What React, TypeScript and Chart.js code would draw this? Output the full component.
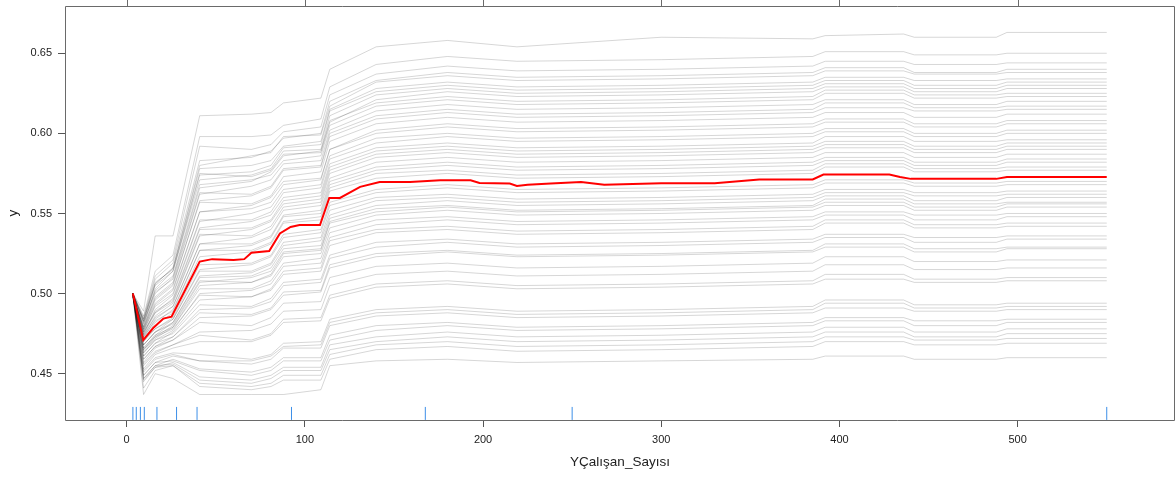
import React, { useEffect, useRef } from "react";
import { Chart, registerables } from "chart.js";

Chart.register(...registerables);

// ---- axis ticks ----
const xTicks = [0, 100, 200, 300, 400, 500];
const yTicks = [0.45, 0.5, 0.55, 0.6, 0.65];

// ---- grid of the ICE curves (YÇalışan_Sayısı values) ----
const gridX = [3.5, 9.5, 16, 26, 41, 70, 81, 88, 109, 114, 140, 180, 219, 300, 385, 392, 436, 442, 488, 494, 550];

// ---- individual conditional expectation curves ----
const ice01 = [.500, .489, .536, .536, .611, .612, .613, .619, .622, .640, .654, .658, .654, .660, .659, .661, .662, .660, .660, .663, .663];
const ice02 = [.500, .486, .514, .524, .598, .598, .599, .605, .609, .629, .643, .648, .645, .646, .648, .651, .651, .649, .649, .650, .650];
const ice03 = [.500, .485, .511, .521, .592, .590, .593, .601, .604, .624, .637, .642, .639, .640, .642, .645, .645, .643, .643, .644, .644];
const ice04 = [.499, .484, .509, .519, .583, .585, .589, .597, .600, .620, .633, .638, .635, .636, .638, .641, .641, .638, .638, .640, .640];
const ice05 = [.500, .483, .506, .516, .580, .586, .588, .598, .599, .617, .632, .636, .633, .634, .636, .639, .639, .637, .637, .638, .638];
const ice06 = [.500, .483, .506, .516, .578, .580, .583, .592, .595, .615, .628, .632, .629, .630, .632, .635, .635, .633, .633, .634, .634];
const ice07 = [.499, .480, .503, .514, .574, .576, .580, .591, .593, .614, .626, .630, .627, .628, .630, .633, .633, .630, .630, .632, .632];
const ice08 = [.500, .482, .505, .514, .571, .574, .578, .589, .590, .611, .624, .628, .625, .626, .628, .631, .631, .628, .628, .630, .630];
const ice09 = [.500, .484, .507, .515, .575, .573, .577, .587, .588, .607, .621, .626, .623, .624, .626, .629, .629, .626, .626, .628, .628];
const ice10 = [.498, .479, .500, .510, .566, .570, .576, .586, .589, .608, .619, .623, .620, .621, .623, .627, .627, .624, .624, .625, .625];
const ice11 = [.500, .481, .502, .511, .568, .571, .574, .583, .586, .605, .617, .621, .618, .619, .621, .625, .625, .622, .622, .623, .623];
const ice12 = [.499, .478, .498, .507, .562, .567, .571, .581, .583, .602, .614, .618, .615, .616, .618, .621, .621, .618, .618, .620, .620];
const ice13 = [.500, .482, .501, .509, .563, .562, .567, .578, .580, .600, .611, .615, .612, .613, .615, .619, .619, .616, .616, .617, .617];
const ice14 = [.500, .477, .496, .505, .558, .561, .566, .577, .579, .598, .609, .613, .610, .611, .613, .616, .616, .614, .614, .615, .615];
const ice15 = [.499, .479, .497, .506, .557, .556, .561, .573, .576, .595, .606, .610, .607, .608, .610, .613, .613, .610, .610, .612, .612];
const ice16 = [.500, .476, .493, .502, .551, .555, .560, .570, .572, .590, .602, .606, .603, .604, .606, .609, .609, .606, .606, .608, .608];
const ice17 = [.500, .478, .494, .503, .551, .553, .557, .568, .571, .590, .600, .604, .601, .602, .604, .607, .607, .604, .604, .606, .606];
const ice18 = [.498, .475, .490, .499, .545, .550, .554, .565, .568, .586, .597, .600, .597, .598, .600, .603, .603, .600, .600, .602, .602];
const ice19 = [.500, .477, .492, .500, .546, .546, .551, .563, .566, .584, .594, .598, .595, .596, .598, .601, .601, .598, .598, .600, .600];
const ice20 = [.499, .474, .488, .497, .541, .545, .549, .560, .563, .581, .591, .594, .591, .592, .594, .598, .598, .595, .595, .596, .596];
const ice21 = [.500, .475, .489, .496, .540, .541, .546, .558, .561, .579, .589, .592, .589, .590, .592, .595, .595, .592, .592, .594, .594];
const ice22 = [.500, .473, .486, .494, .536, .540, .545, .556, .559, .577, .587, .590, .587, .588, .590, .593, .593, .590, .590, .592, .592];
const ice23 = [.499, .476, .488, .495, .537, .536, .542, .554, .557, .575, .585, .588, .585, .586, .588, .591, .591, .588, .588, .590, .590];
const ice24 = [.500, .472, .484, .492, .531, .535, .540, .552, .555, .572, .582, .585, .582, .583, .585, .588, .588, .585, .585, .587, .587];
const ice25 = [.500, .474, .485, .492, .531, .531, .536, .549, .552, .570, .579, .582, .579, .580, .582, .585, .585, .582, .582, .584, .584];
const ice26 = [.498, .471, .482, .490, .527, .530, .535, .548, .550, .568, .577, .580, .577, .578, .580, .583, .583, .580, .580, .582, .582];
const ice27 = [.500, .473, .483, .489, .527, .527, .532, .545, .548, .566, .575, .577, .574, .575, .577, .581, .581, .578, .578, .579, .579];
const ice28 = [.499, .470, .480, .488, .523, .526, .531, .544, .546, .564, .572, .575, .572, .573, .575, .579, .579, .576, .576, .577, .577];
const ice29 = [.500, .471, .478, .485, .518, .519, .524, .537, .540, .557, .565, .568, .565, .566, .568, .571, .571, .569, .569, .570, .570];
const ice30 = [.500, .468, .476, .484, .515, .518, .523, .535, .538, .555, .563, .566, .563, .564, .566, .569, .569, .567, .567, .568, .568];
const ice31 = [.499, .470, .478, .484, .514, .514, .519, .532, .535, .552, .560, .562, .559, .560, .562, .565, .565, .563, .563, .564, .564];
const ice32 = [.500, .466, .474, .482, .511, .513, .518, .530, .533, .549, .558, .560, .557, .558, .560, .563, .563, .561, .561, .562, .562];
const ice33 = [.500, .468, .476, .482, .510, .511, .516, .528, .530, .547, .555, .558, .555, .556, .558, .561, .561, .558, .558, .560, .560];
const ice34 = [.498, .465, .473, .480, .507, .510, .514, .526, .528, .545, .553, .555, .552, .553, .555, .559, .559, .556, .556, .557, .557];
const ice35 = [.500, .468, .476, .481, .508, .507, .512, .525, .527, .544, .551, .554, .551, .552, .554, .557, .557, .554, .554, .556, .556];
const ice36 = [.499, .464, .472, .479, .505, .507, .511, .523, .525, .541, .549, .552, .549, .550, .552, .555, .555, .552, .552, .554, .554];
const ice37 = [.500, .466, .474, .479, .503, .503, .508, .519, .522, .538, .546, .548, .545, .546, .548, .551, .551, .549, .549, .550, .550];
const ice38 = [.500, .463, .471, .477, .500, .502, .506, .517, .519, .535, .543, .546, .543, .544, .546, .549, .549, .546, .546, .548, .548];
const ice39 = [.499, .465, .473, .478, .499, .498, .503, .514, .516, .533, .540, .542, .539, .540, .542, .546, .546, .543, .543, .544, .544];
const ice40 = [.500, .461, .469, .476, .496, .498, .502, .512, .514, .530, .538, .540, .537, .538, .540, .544, .544, .541, .541, .542, .542];
const ice41 = [.498, .463, .471, .475, .493, .492, .497, .507, .509, .524, .532, .534, .531, .532, .534, .537, .537, .535, .535, .536, .536];
const ice42 = [.500, .459, .467, .473, .490, .491, .495, .505, .507, .522, .529, .532, .529, .530, .532, .535, .535, .532, .532, .534, .534];
const ice43 = [.500, .461, .469, .473, .488, .487, .491, .501, .502, .518, .525, .527, .524, .525, .527, .531, .531, .528, .528, .529, .529];
const ice44 = [.499, .457, .466, .471, .485, .486, .490, .499, .501, .516, .523, .526, .523, .524, .526, .529, .529, .526, .526, .528, .528];
const ice45 = [.500, .459, .467, .471, .482, .480, .485, .494, .495, .510, .517, .519, .516, .517, .519, .523, .523, .520, .520, .521, .521];
const ice46 = [.500, .455, .463, .468, .476, .477, .481, .489, .490, .505, .512, .514, .511, .512, .514, .518, .518, .515, .515, .516, .516];
const ice47 = [.498, .456, .464, .468, .474, .471, .475, .484, .485, .499, .506, .508, .505, .506, .508, .512, .512, .509, .509, .510, .510];
const ice48 = [.500, .453, .462, .466, .470, .470, .474, .482, .483, .497, .504, .506, .503, .504, .506, .509, .509, .507, .507, .508, .508];
const ice49 = [.499, .452, .460, .463, .462, .459, .462, .469, .470, .484, .490, .492, .489, .490, .492, .496, .496, .493, .493, .494, .494];
const ice50 = [.500, .449, .457, .461, .458, .458, .461, .467, .468, .482, .488, .490, .487, .488, .490, .494, .494, .491, .491, .492, .492];
const ice51 = [.500, .451, .459, .462, .458, .456, .459, .466, .466, .480, .486, .488, .485, .486, .488, .491, .491, .489, .489, .490, .490];
const ice52 = [.498, .447, .455, .459, .453, .451, .454, .460, .460, .474, .480, .482, .479, .480, .482, .485, .485, .483, .483, .484, .484];
const ice53 = [.500, .449, .457, .458, .452, .449, .452, .458, .458, .471, .477, .480, .477, .478, .480, .483, .483, .480, .480, .482, .482];
const ice54 = [.499, .445, .454, .457, .448, .446, .449, .454, .454, .468, .473, .476, .473, .474, .476, .479, .479, .476, .476, .478, .478];
const ice55 = [.500, .447, .455, .456, .446, .444, .447, .452, .452, .465, .470, .473, .470, .471, .473, .476, .476, .473, .473, .475, .475];
const ice56 = [.500, .441, .452, .455, .444, .442, .444, .449, .449, .462, .468, .470, .467, .468, .470, .473, .473, .471, .471, .472, .472];
const ice57 = [.499, .446, .454, .455, .442, .440, .442, .446, .446, .459, .465, .467, .464, .465, .467, .470, .470, .468, .468, .469, .469];
const ice58 = [.499, .437, .450, .447, .437, .437, .437, .437, .440, .455, .458, .459, .457, .458, .459, .461, .461, .459, .459, .460, .460];

const iceLines = [
  ice01, ice02, ice03, ice04, ice05, ice06, ice07, ice08, ice09, ice10,
  ice11, ice12, ice13, ice14, ice15, ice16, ice17, ice18, ice19, ice20,
  ice21, ice22, ice23, ice24, ice25, ice26, ice27, ice28, ice29, ice30,
  ice31, ice32, ice33, ice34, ice35, ice36, ice37, ice38, ice39, ice40,
  ice41, ice42, ice43, ice44, ice45, ice46, ice47, ice48, ice49, ice50,
  ice51, ice52, ice53, ice54, ice55, ice56, ice57, ice58,
];

// ---- average (red) curve ----
const meanX = [3.5, 9.3, 14.9, 20.6, 25.2, 41, 48, 60, 66, 70, 80, 86, 92, 97, 108.5, 113.7, 119.7, 131, 142, 159, 176, 193, 198, 215, 219, 225, 238, 255, 268, 300, 330, 355, 385, 391, 428, 434, 440, 488, 494, 550];
const meanY = [.500, .471, .4785, .4844, .4856, .520, .5215, .521, .5215, .5255, .5266, .5375, .5416, .5428, .5428, .5597, .5597, .5666, .5697, .5697, .5707, .5707, .569, .5687, .5672, .568, .5687, .5697, .568, .5688, .5688, .5712, .5712, .5743, .5743, .5728, .5716, .5716, .5728, .5728];

// ---- rug of observed values ----
const rugX = [3.5, 5.4, 7.7, 9.9, 17, 28, 39.5, 92.5, 167.6, 250, 550];
const rugY = 0.4252;

const FONT = "'Liberation Sans', Arial, Helvetica, sans-serif";

export default function App() {
  const ref = useRef<HTMLCanvasElement>(null);

  useEffect(() => {
    const canvas = ref.current;
    if (!canvas) return;

    const framePlugin = {
      id: "frame",
      afterDatasetsDraw(chart: any) {
        const { ctx, chartArea: a, scales } = chart;
        ctx.save();
        ctx.strokeStyle = "#6a6a6a";
        ctx.lineWidth = 1;
        const l = Math.round(a.left) + 0.5;
        const t = Math.round(a.top) + 0.5;
        const r = Math.round(a.right) - 0.5;
        const b = Math.round(a.bottom) + 0.5;
        ctx.beginPath();
        ctx.rect(l, t, r - l, b - t);
        xTicks.forEach((v) => {
          const px = Math.round(scales.x.getPixelForValue(v)) + 0.5;
          ctx.moveTo(px, t);
          ctx.lineTo(px, t - 7);
        });
        ctx.stroke();
        ctx.restore();
      },
    };

    const datasets: any[] = [
      {
        label: "mean",
        data: meanX.map((x, i) => ({ x, y: meanY[i] })),
        borderColor: "#ff0000",
        borderWidth: 2,
        pointRadius: 0,
        tension: 0,
        fill: false,
      },
      {
        label: "rug",
        data: rugX.map((x) => ({ x, y: rugY })),
        showLine: false,
        pointStyle: "line",
        pointRotation: 90,
        pointRadius: 6.5,
        pointHoverRadius: 6.5,
        pointBorderColor: "#3d8fe8",
        pointBackgroundColor: "#3d8fe8",
        pointBorderWidth: 1,
      },
      ...iceLines.map((ln, k) => ({
        label: "ice" + (k + 1),
        data: gridX.map((x, i) => ({ x, y: ln[i] })),
        borderColor: "rgba(0,0,0,0.16)",
        borderWidth: 1,
        pointRadius: 0,
        tension: 0,
        fill: false,
      })),
    ];

    const chart = new Chart(canvas, {
      type: "line",
      data: { datasets },
      options: {
        animation: false,
        responsive: false,
        events: [],
        layout: { autoPadding: false, padding: { top: 6, right: 1, left: 0, bottom: 0 } },
        plugins: { legend: { display: false }, tooltip: { enabled: false } },
        scales: {
          x: {
            type: "linear",
            min: -34.6,
            max: 588.3,
            afterBuildTicks: (s: any) => {
              s.ticks = xTicks.map((v) => ({ value: v }));
            },
            afterFit: (s: any) => {
              s.height = 59;
              s.paddingLeft = 0;
              s.paddingRight = 0;
            },
            grid: {
              display: true,
              drawOnChartArea: false,
              drawTicks: true,
              tickLength: 7,
              color: "#555",
            },
            border: { display: false },
            ticks: {
              padding: 6,
              color: "#222",
              font: { family: FONT, size: 11 },
              maxRotation: 0,
              autoSkip: false,
              callback: (v: any) => String(v),
            },
            title: {
              display: true,
              text: "YÇalışan_Sayısı",
              color: "#222",
              font: { family: FONT, size: 13.5 },
              padding: { top: 0, bottom: 9 },
            },
          },
          y: {
            type: "linear",
            min: 0.4211,
            max: 0.6795,
            afterBuildTicks: (s: any) => {
              s.ticks = yTicks.map((v) => ({ value: v }));
            },
            afterFit: (s: any) => {
              s.width = 65;
              s.paddingTop = 0;
              s.paddingBottom = 0;
            },
            grid: {
              display: true,
              drawOnChartArea: false,
              drawTicks: true,
              tickLength: 7,
              color: "#555",
            },
            border: { display: false },
            ticks: {
              padding: 6,
              color: "#222",
              font: { family: FONT, size: 11 },
              autoSkip: false,
              callback: (v: any) => Number(v).toFixed(2),
            },
            title: {
              display: true,
              text: "y",
              color: "#222",
              font: { family: FONT, size: 13.5 },
              padding: { top: 5, bottom: 0 },
            },
          },
        },
      },
      plugins: [framePlugin],
    } as any);

    return () => chart.destroy();
  }, []);

  return (
    <div style={{ position: "fixed", left: 0, top: 0, width: 1176, height: 479, background: "#fff" }}>
      <canvas ref={ref} width={1176} height={479} style={{ display: "block", width: 1176, height: 479 }} />
    </div>
  );
}
